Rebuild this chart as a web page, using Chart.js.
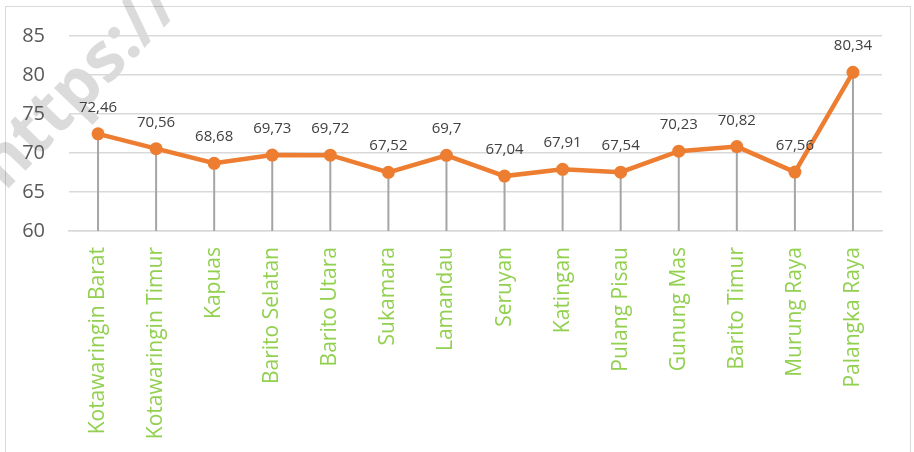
<!DOCTYPE html>
<html>
<head>
<meta charset="utf-8">
<script src="https://cdn.jsdelivr.net/npm/chart.js@4/dist/chart.umd.min.js"></script>
<style>
  html, body { margin: 0; padding: 0; background: #fff; }
  #chart { display: block; }
</style>
</head>
<body>
<canvas id="chart" width="914" height="452"></canvas>
<script>
// Data
const regions = ['Kotawaringin Barat', 'Kotawaringin Timur', 'Kapuas', 'Barito Selatan', 'Barito Utara',
    'Sukamara', 'Lamandau', 'Seruyan', 'Katingan', 'Pulang Pisau', 'Gunung Mas', 'Barito Timur',
    'Murung Raya', 'Palangka Raya'];
const values = [72.46, 70.56, 68.68, 69.73, 69.72, 67.52, 69.7, 67.04, 67.91, 67.54, 70.23, 70.82, 67.56, 80.34];
const yMin = 60;
const yMax = 85;
const yStep = 5;

const FONT = '"Open Sans", "Liberation Sans", sans-serif';

// frame + faint watermark behind the chart
const backdrop = {
    id: 'backdrop',
    beforeDraw(chart) {
        const ctx = chart.ctx;
        ctx.save();
        ctx.fillStyle = '#fff';
        ctx.fillRect(0, 0, chart.width, chart.height);
        ctx.strokeStyle = '#d9d9d9';
        ctx.lineWidth = 1;
        ctx.strokeRect(5.5, 6.5, 905, 470);

        ctx.translate(5, 192);
        ctx.rotate(-46 * Math.PI / 180);
        ctx.font = 'bold 68px ' + FONT;
        ctx.fillStyle = 'rgba(0, 0, 0, 0.14)';
        ctx.fillText('https://', 0, 0);
        ctx.restore();
    }
};

// grey drop lines from each point down to the axis
const dropLines = {
    id: 'dropLines',
    beforeDatasetsDraw(chart) {
        const ctx = chart.ctx;
        const bottom = chart.chartArea.bottom;
        const meta = chart.getDatasetMeta(0);
        ctx.save();
        ctx.strokeStyle = '#a5a5a5';
        ctx.lineWidth = 2;
        meta.data.forEach(pt => {
            ctx.beginPath();
            ctx.moveTo(pt.x, pt.y);
            ctx.lineTo(pt.x, bottom);
            ctx.stroke();
        });
        ctx.restore();
    }
};

// value labels above points, with decimal comma
const valueLabels = {
    id: 'valueLabels',
    afterDatasetsDraw(chart) {
        const ctx = chart.ctx;
        const meta = chart.getDatasetMeta(0);
        ctx.save();
        ctx.font = '15px ' + FONT;
        ctx.fillStyle = '#404040';
        ctx.textAlign = 'center';
        ctx.textBaseline = 'alphabetic';
        meta.data.forEach((pt, i) => {
            const txt = String(values[i]).replace('.', ',');
            ctx.fillText(txt, pt.x, pt.y - 22);
        });
        ctx.restore();
    }
};

new Chart(document.getElementById('chart'), {
    type: 'line',
    data: {
        labels: regions,
        datasets: [{
            data: values,
            borderColor: '#ed7d31',
            backgroundColor: '#ed7d31',
            borderWidth: 4.5,
            tension: 0,
            pointRadius: 6.5,
            pointBorderWidth: 0,
            pointBackgroundColor: '#ed7d31'
        }]
    },
    options: {
        responsive: false,
        animation: false,
        devicePixelRatio: 1,
        layout: {
            padding: { left: 0, right: 32, top: 34.5, bottom: 0 }
        },
        plugins: {
            legend: { display: false },
            tooltip: { enabled: false }
        },
        scales: {
            x: {
                offset: true,
                grid: { display: false, drawTicks: false, offset: true },
                border: { display: true, color: '#d9d9d9', width: 1.5 },
                ticks: {
                    autoSkip: false,
                    maxRotation: 90,
                    minRotation: 90,
                    padding: 16,
                    color: '#92d050',
                    font: { family: FONT, size: 21 }
                },
                afterFit(scale) { scale.height = 221; }
            },
            y: {
                min: yMin,
                max: yMax,
                grid: { color: '#d9d9d9', lineWidth: 1.5, drawTicks: false },
                border: { display: false },
                ticks: {
                    stepSize: yStep,
                    padding: 24,
                    color: '#595959',
                    font: { family: FONT, size: 20 }
                },
                afterFit(scale) { scale.width = 69; }
            }
        }
    },
    plugins: [backdrop, dropLines, valueLabels]
});
</script>
</body>
</html>
